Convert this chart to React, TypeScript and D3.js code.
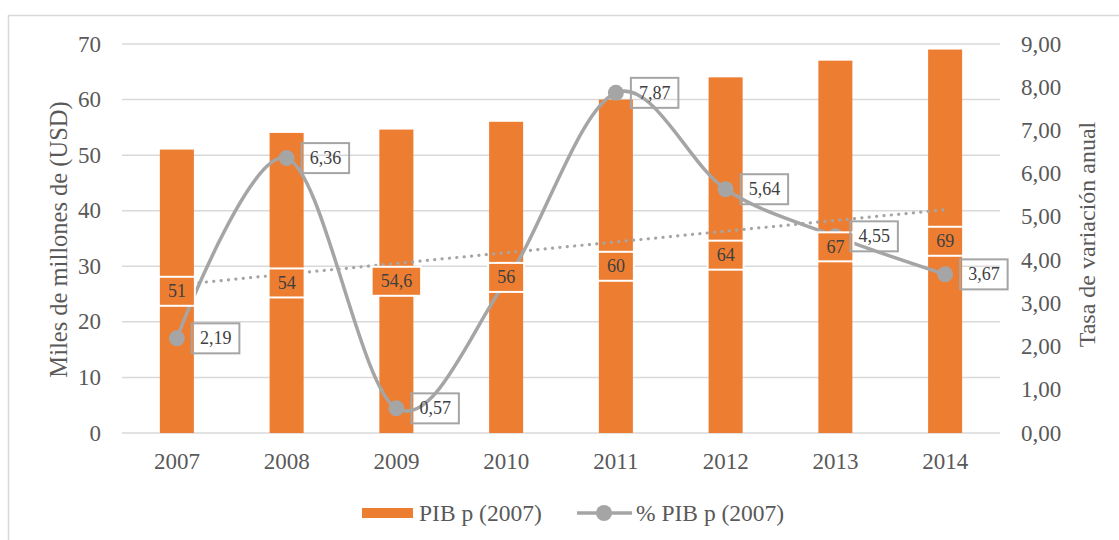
import * as d3 from 'd3';
import React, { useEffect, useRef } from 'react';

const years = ['2007', '2008', '2009', '2010', '2011', '2012', '2013', '2014'];
const pibValues = [51, 54, 54.6, 56, 60, 64, 67, 69];
const rateValues = [2.19, 6.36, 0.57, 3.52, 7.87, 5.64, 4.55, 3.67];
// 2010 point sits under the bar label and has no label of its own
const rateLabelShown = [true, true, true, false, true, true, true, true];
const leftTicks = [0, 10, 20, 30, 40, 50, 60, 70];
const rightTicks = [0, 1, 2, 3, 4, 5, 6, 7, 8, 9];

const ORANGE = '#ED7D31';
const GRAY = '#A5A5A5';
const GRID = '#D9D9D9';
const TEXT = '#595959';
const LABEL = '#404040';
const FONT = '"Liberation Serif", "Times New Roman", serif';

const fmt = (v: number, d: number) => v.toFixed(d).replace('.', ',');

export default function App() {
  const svgRef = useRef<SVGSVGElement>(null);
  const width = 1119;
  const height = 540;

  useEffect(() => {
    const svg = d3.select(svgRef.current);
    svg.selectAll('*').remove();

    const margin = { top: 44, right: 119, bottom: 107, left: 122 };
    const plotRight = width - margin.right;
    const plotBottom = height - margin.bottom;

    const x = d3.scaleBand<string>()
      .domain(years)
      .range([margin.left, plotRight])
      .paddingInner(0.69)
      .paddingOuter(0.345);
    const yLeft = d3.scaleLinear().domain([0, 70]).range([plotBottom, margin.top]);
    const yRight = d3.scaleLinear().domain([0, 9]).range([plotBottom, margin.top]);
    const cx = (yr: string) => (x(yr) as number) + x.bandwidth() / 2;

    // chart frame
    svg.append('rect')
      .attr('x', 8.5).attr('y', 15.5)
      .attr('width', width + 20).attr('height', height + 20)
      .attr('fill', 'white')
      .attr('stroke', GRID).attr('stroke-width', 1.5);

    // gridlines
    svg.append('g')
      .selectAll('line')
      .data(leftTicks)
      .join('line')
      .attr('x1', margin.left).attr('x2', plotRight)
      .attr('y1', d => yLeft(d)).attr('y2', d => yLeft(d))
      .attr('stroke', GRID).attr('stroke-width', 1.5);

    // left ticks
    svg.append('g')
      .selectAll('text')
      .data(leftTicks)
      .join('text')
      .attr('x', 101).attr('y', d => yLeft(d))
      .attr('text-anchor', 'end').attr('dominant-baseline', 'central')
      .style('font-family', FONT).style('font-size', '23px').attr('fill', TEXT)
      .text(d => d);

    // right ticks
    svg.append('g')
      .selectAll('text')
      .data(rightTicks)
      .join('text')
      .attr('x', 1021).attr('y', d => yRight(d))
      .attr('text-anchor', 'start').attr('dominant-baseline', 'central')
      .style('font-family', FONT).style('font-size', '23px').attr('fill', TEXT)
      .text(d => fmt(d, 2));

    // x labels
    svg.append('g')
      .selectAll('text')
      .data(years)
      .join('text')
      .attr('x', d => cx(d)).attr('y', 461)
      .attr('text-anchor', 'middle').attr('dominant-baseline', 'central')
      .style('font-family', FONT).style('font-size', '23px').attr('fill', TEXT)
      .text(d => d);

    // axis titles
    const midY = (margin.top + plotBottom) / 2;
    svg.append('text')
      .attr('transform', `translate(58,${midY + 1}) rotate(-90)`)
      .attr('text-anchor', 'middle').attr('dominant-baseline', 'central')
      .style('font-family', FONT).style('font-size', '24.5px').attr('fill', TEXT)
      .text('Miles de millones de (USD)');
    svg.append('text')
      .attr('transform', `translate(1087,${midY - 4}) rotate(-90)`)
      .attr('text-anchor', 'middle').attr('dominant-baseline', 'central')
      .style('font-family', FONT).style('font-size', '24px').attr('fill', TEXT)
      .text('Tasa de variación anual');

    // bars
    svg.append('g')
      .selectAll('rect')
      .data(pibValues)
      .join('rect')
      .attr('x', (d, i) => x(years[i]) as number)
      .attr('y', d => yLeft(d))
      .attr('width', x.bandwidth())
      .attr('height', d => plotBottom - yLeft(d))
      .attr('fill', ORANGE);

    // linear trendline of the rate series
    const n = rateValues.length;
    const mx = (n + 1) / 2;
    const my = d3.mean(rateValues) as number;
    const slope = d3.sum(rateValues, (v, i) => (i + 1 - mx) * (v - my)) /
      d3.sum(rateValues, (v, i) => (i + 1 - mx) ** 2);
    const trend = (i: number) => my + slope * (i - mx);
    svg.append('line')
      .attr('x1', cx(years[0])).attr('y1', yRight(trend(1)))
      .attr('x2', cx(years[n - 1])).attr('y2', yRight(trend(n)))
      .attr('stroke', GRAY).attr('stroke-width', 3.2)
      .attr('stroke-linecap', 'round').attr('stroke-dasharray', '0.1 7.3');

    // smoothed rate line
    const linePts = rateValues.map((v, i) => ({ yr: years[i], v, shown: rateLabelShown[i] }));
    const line = d3.line<{ yr: string; v: number }>()
      .x(p => cx(p.yr))
      .y(p => yRight(p.v))
      .curve(d3.curveCardinal.tension(0));
    svg.append('path')
      .attr('d', line(linePts))
      .attr('fill', 'none').attr('stroke', GRAY).attr('stroke-width', 3.5)
      .attr('stroke-linejoin', 'round').attr('stroke-linecap', 'round');
    svg.append('g')
      .selectAll('circle')
      .data(linePts)
      .join('circle')
      .attr('cx', p => cx(p.yr)).attr('cy', p => yRight(p.v))
      .attr('r', 8).attr('fill', GRAY);

    // bar labels
    const barLabels = svg.append('g')
      .selectAll('g')
      .data(pibValues)
      .join('g')
      .attr('transform', (d, i) => `translate(${cx(years[i])},${yLeft(d / 2)})`);
    barLabels.append('text')
      .attr('text-anchor', 'middle').attr('dominant-baseline', 'central')
      .style('font-family', FONT).style('font-size', '18px').attr('fill', LABEL)
      .text(d => String(d).replace('.', ','));
    barLabels.each(function () {
      const g = d3.select(this);
      const t = g.select('text').node() as SVGTextElement;
      const w = t.getComputedTextLength() + 18;
      g.insert('rect', 'text')
        .attr('x', -w / 2).attr('y', -14.5)
        .attr('width', w).attr('height', 29)
        .attr('fill', ORANGE).attr('stroke', 'white').attr('stroke-width', 2);
    });

    // rate labels
    const rateLabels = svg.append('g')
      .selectAll('g')
      .data(linePts.filter(p => p.shown))
      .join('g')
      .attr('transform', p => `translate(${cx(p.yr) + 15},${yRight(p.v)})`);
    rateLabels.append('text')
      .attr('x', 8)
      .attr('dominant-baseline', 'central')
      .style('font-family', FONT).style('font-size', '18px').attr('fill', LABEL)
      .text(p => fmt(p.v, 2));
    rateLabels.each(function () {
      const g = d3.select(this);
      const t = g.select('text').node() as SVGTextElement;
      const w = t.getComputedTextLength() + 16;
      g.insert('rect', 'text')
        .attr('x', 0).attr('y', -15)
        .attr('width', w).attr('height', 30)
        .attr('fill', 'none').attr('stroke', GRAY).attr('stroke-width', 2);
    });

    // legend
    const legend = svg.append('g').attr('transform', 'translate(0,513)');
    legend.append('rect')
      .attr('x', 362).attr('y', -5).attr('width', 51).attr('height', 10)
      .attr('fill', ORANGE);
    legend.append('text')
      .attr('x', 419).attr('dominant-baseline', 'central')
      .style('font-family', FONT).style('font-size', '23.5px').attr('fill', TEXT)
      .text('PIB p (2007)');
    legend.append('line')
      .attr('x1', 577).attr('x2', 632)
      .attr('stroke', GRAY).attr('stroke-width', 3.5);
    legend.append('circle')
      .attr('cx', 604).attr('r', 8).attr('fill', GRAY);
    legend.append('text')
      .attr('x', 636).attr('dominant-baseline', 'central')
      .style('font-family', FONT).style('font-size', '23.5px').attr('fill', TEXT)
      .text('% PIB p (2007)');
  }, []);

  return (
    <svg
      ref={svgRef}
      width={width}
      height={height}
      style={{ position: 'absolute', left: 0, top: 0, background: 'white' }}
    />
  );
}
